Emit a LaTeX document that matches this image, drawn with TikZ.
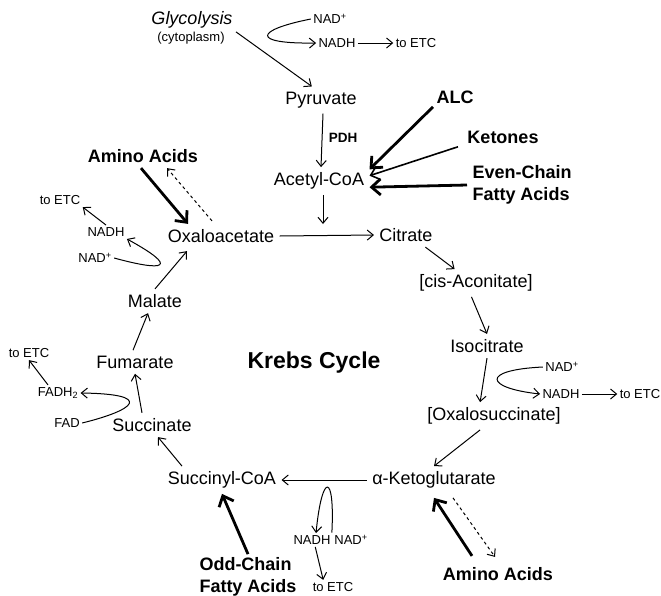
\documentclass[tikz,border=0pt]{standalone}
\usepackage{fontspec}
\setmainfont{Liberation Sans}
\usetikzlibrary{arrows.meta}

\begin{document}
\begin{tikzpicture}
	[
	x=1pt, y=-1pt, font=\fontsize{18}{21}\selectfont, line width=1pt,
	>={Straight Barb[length=6pt,width=10pt]},
	%Voreinstellungen
	stoff/.style={inner sep=5pt},
	klein/.style={font=\fontsize{13}{15}\selectfont, inner sep=2pt},
	fett/.style={font=\fontsize{18}{22}\selectfont\bfseries, inner sep=3pt},
	dick/.style={line width=2.8pt, -{Straight Barb[length=9pt,width=16pt]}}
	]
	
	\useasboundingbox (0,0) rectangle (661,595);
	
	%Zwischenprodukte
	\node[stoff] (pyr) at (321,100) {Pyruvate};
	\node[stoff] (acoa) at (319,181) {Acetyl-CoA};
	\node[stoff] (oxa) at (221,236) {Oxaloacetate};
	\node[stoff] (cit) at (406,235) {Citrate};
	\node[stoff] (cis) at (476,283) {[cis-Aconitate]};
	\node[stoff] (iso) at (487,346) {Isocitrate};
	\node[stoff] (oxs) at (494,416) {[Oxalosuccinate]};
	\node[stoff] (akg) at (434,480) {α-Ketoglutarate};
	\node[stoff] (sca) at (222,480) {Succinyl-CoA};
	\node[stoff] (suc) at (152,425) {Succinate};
	\node[stoff] (fum) at (135,362) {Fumarate};
	\node[stoff] (mal) at (155,301) {Malate};
	\node[font=\fontsize{23}{26}\selectfont\bfseries] (krebs) at (314,363) {Krebs Cycle};
	
	%Zufluesse
	\node[inner sep=3pt] (glyk) at (192,20) {\itshape Glycolysis};
	\node[klein] (cyto) at (191,38) {(cytoplasm)};
	\node[fett] (alc) at (455,97) {ALC};
	\node[fett] (ket) at (503,137) {Ketones};
	\node[fett, align=left, anchor=west, inner sep=5pt] (even) at (467,185) {Even-Chain\\Fatty Acids};
	\node[fett, align=left, anchor=west] (odd) at (196,577) {Odd-Chain\\Fatty Acids};
	\node[fett] (aaO) at (143,156) {Amino Acids};
	\node[fett] (aaU) at (498,574) {Amino Acids};
	\node[font=\fontsize{13.5}{15}\selectfont\bfseries] (pdh) at (343,138) {PDH};
	
	%Kofaktoren
	\node[klein] (nadA) at (330,19) {NAD\textsuperscript{+}};
	\node[klein] (nadhA) at (337,43) {NADH};
	\node[klein] (etcA) at (416,43) {to ETC};
	\node[klein] (nadB) at (562,367) {NAD\textsuperscript{+}};
	\node[klein] (nadhB) at (561,394) {NADH};
	\node[klein] (etcB) at (640,394) {to ETC};
	\node[klein] (nadhC) at (312,540) {NADH};
	\node[klein] (nadC) at (351,540) {NAD\textsuperscript{+}};
	\node[klein] (etcC) at (333,587) {to ETC};
	\node[klein] (etcD) at (60,200) {to ETC};
	\node[klein] (nadhD) at (106,232) {NADH};
	\node[klein] (nadD) at (95,258) {NAD\textsuperscript{+}};
	\node[klein] (etcE) at (29,353) {to ETC};
	\node[klein] (fadh) at (58,393) {FADH\textsubscript{2}};
	\node[klein] (fad) at (67,423) {FAD};
	\coordinate (mitte) at (323,224);
	
	%Pfeile im Zyklus
	\draw [->] (glyk.south east) -- (pyr.124);
	\draw [->] ([xshift=2pt]pyr.south) -- ([xshift=2pt]acoa.north);
	\draw [->] ([xshift=4pt]acoa.south) -- (mitte);
	\draw [->] (oxa.east) -- (cit.west);
	\draw [->] (cit.-32) -- (cis.147);
	\draw [->] (cis.-108) -- (iso.north);
	\draw [->] (iso.south) -- (oxs.135);
	\draw [->] (oxs.-135) -- (akg.north);
	\draw [->] (akg.west) -- (sca.east);
	\draw [->] ([xshift=-40pt]sca.north) -- ([xshift=6pt]suc.south);
	\draw [->] ([xshift=-10pt]suc.north) -- (fum.south);
	\draw [->] ([xshift=-2pt]fum.north) -- ([xshift=-7pt]mal.south);
	\draw [->] (mal.north) -- ([xshift=-34pt,yshift=-3pt]oxa.south);
	
	%Zufluesse
	\draw [dick] (alc.south west) -- (acoa.13);
	\draw [->, line width=1.6pt, >={Straight Barb[length=8pt,width=14pt]}] ([xshift=-6pt]ket.south west) -- (acoa.6);
	\draw [dick] (even.west) -- (acoa.-7);
	\draw [dick] (odd.north) -- (sca.south);
	\draw [dick] ([xshift=-2pt,yshift=-2pt]aaO.south) -- ([xshift=-33pt]oxa.north);
	\draw [->, dashed] ([xshift=-9pt,yshift=3pt]oxa.north) -- ([xshift=24pt,yshift=-2pt]aaO.south);
	\draw [dick] ([xshift=-26pt,yshift=8pt]aaU.north) -- ([yshift=-4pt]akg.south);
	\draw [->, dashed] ([xshift=19pt,yshift=-4pt]akg.south) -- ([xshift=-3pt,yshift=7pt]aaU.north);
	
	%NAD und FAD
	\draw [->] (nadA.west) .. controls (255,30) and (250,44) .. (nadhA.west);
	\draw [->] (nadhA) -- (etcA);
	\draw [->] (nadB.west) .. controls (480,370) and (485,388) .. (nadhB.west);
	\draw [->] (nadhB) -- (etcB);
	\draw [->] (nadC.north west) .. controls (335,472) and (322,472) .. (nadhC.60);
	\draw [->] (nadhC.-65) -- (etcC.144);
	\draw [->] (nadD.east) .. controls (165,272) and (180,268) .. (nadhD.south east);
	\draw [->] (nadhD.north) -- (etcD.south east);
	\draw [->] (fad.east) .. controls (135,410) and (155,394) .. (fadh.east);
	\draw [->] ([xshift=-10pt]fadh.north) -- (etcE.south);
\end{tikzpicture}
\end{document}
